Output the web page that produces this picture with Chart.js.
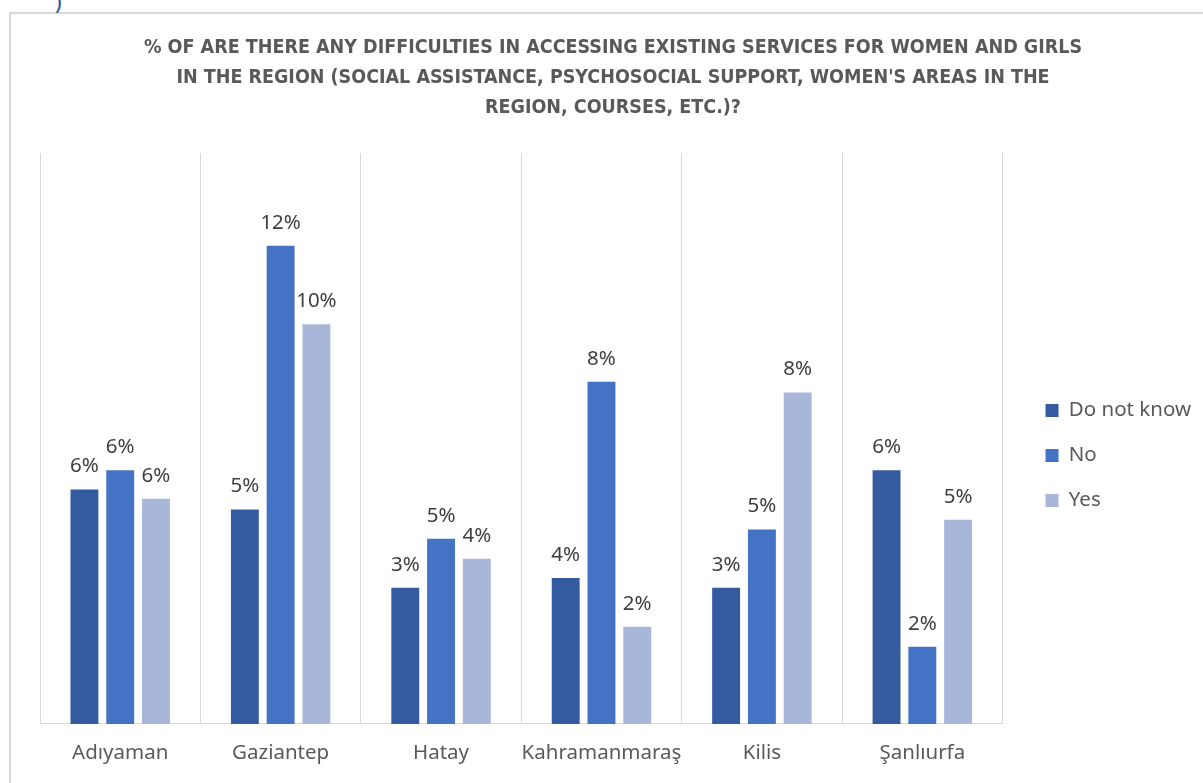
<!DOCTYPE html>
<html>
<head>
<meta charset="utf-8">
<script src="https://cdn.jsdelivr.net/npm/chart.js@4/dist/chart.umd.min.js"></script>
<style>
  html, body { margin: 0; padding: 0; background: #ffffff; }
  #wrap { position: relative; width: 1203px; height: 783px; overflow: hidden; }
  #frame { position: absolute; left: 9px; top: 12px; width: 1300px; height: 900px;
           border-left: 2px solid #d9d9d9; border-top: 2px solid #d9d9d9; box-sizing: border-box; }
  #cut { position: absolute; left: 55px; top: -14px; font: 22px "Noto Sans", sans-serif; color: #2f5496; }
  canvas { position: absolute; left: 0; top: 0; }
</style>
</head>
<body>
<div id="wrap">
  <div id="frame"></div>
  <div id="cut">)</div>
  <canvas id="chart" width="1203" height="783"></canvas>
</div>
<script>
// Provinces and answer shares (percent of respondents)
const provinces = ['Adıyaman', 'Gaziantep', 'Hatay', 'Kahramanmaraş', 'Kilis', 'Şanlıurfa'];
const doNotKnow = [5.75, 5.26, 3.34, 3.58, 3.34, 6.22];
const noAnswer  = [6.22, 11.73, 4.54, 8.39, 4.77, 1.89];
const yesAnswer = [5.52, 9.80, 4.05, 2.38, 8.13, 5.01];
const seriesNames = ['Do not know', 'No', 'Yes'];
const titleLines = [
  '% OF ARE THERE ANY DIFFICULTIES IN ACCESSING EXISTING SERVICES FOR WOMEN AND GIRLS',
  "IN THE REGION (SOCIAL ASSISTANCE, PSYCHOSOCIAL SUPPORT, WOMEN'S AREAS IN THE",
  'REGION, COURSES, ETC.)?'
];

const textFont = '"Noto Sans", "Open Sans", sans-serif';
const textSize = 20.5;

// Percentage label above every bar
const barLabels = {
  id: 'barLabels',
  afterDatasetsDraw(chart) {
    const ctx = chart.ctx;
    ctx.save();
    ctx.font = textSize + 'px ' + textFont;
    ctx.fillStyle = '#404040';
    ctx.textAlign = 'center';
    ctx.textBaseline = 'alphabetic';
    chart.data.datasets.forEach((ds, i) => {
      const meta = chart.getDatasetMeta(i);
      meta.data.forEach((bar, j) => {
        ctx.fillText(Math.round(ds.data[j]) + '%', bar.x, bar.y - 17);
      });
    });
    ctx.restore();
  }
};

// Invisible scale that only reserves a fixed strip of width
const spacer = (w, side) => ({
  position: side,
  display: true,
  grid: { display: false },
  border: { display: false },
  ticks: { display: false },
  afterFit(scale) { scale.width = w; }
});

new Chart(document.getElementById('chart'), {
  type: 'bar',
  data: {
    labels: provinces,
    datasets: [
      { label: seriesNames[0], data: doNotKnow, backgroundColor: '#345aa0' },
      { label: seriesNames[1], data: noAnswer,  backgroundColor: '#4472c4' },
      { label: seriesNames[2], data: yesAnswer, backgroundColor: '#a8b6da' }
    ]
  },
  options: {
    responsive: false,
    animation: false,
    layout: { padding: { left: 25, right: 2, top: 0, bottom: 0.5 } },
    datasets: { bar: { categoryPercentage: 0.669, barPercentage: 0.78 } },
    scales: {
      x: {
        grid: { color: '#d9d9d9', lineWidth: 1, drawTicks: false, offset: true },
        border: { color: '#d9d9d9', width: 1 },
        ticks: { color: '#595959', font: { family: textFont, size: textSize }, padding: 17,
                 maxRotation: 0, minRotation: 0, autoSkip: false }
      },
      y: Object.assign(spacer(15, 'left'), { min: 0, max: 14 }),
      gap: spacer(18.5, 'right')
    },
    plugins: {
      title: {
        display: true,
        text: titleLines,
        color: '#595959',
        font: { family: '"Liberation Sans Narrow", "DejaVu Sans Condensed", sans-serif', size: 19.5, weight: 'bold', lineHeight: 1.54 },
        padding: { top: 33, bottom: 30 }
      },
      legend: {
        position: 'right',
        title: { display: true, text: ' ', font: { size: 10, lineHeight: 1 }, padding: { top: 0, bottom: 118.5 } },
        labels: {
          color: '#595959',
          font: { family: textFont, size: textSize },
          boxWidth: 13, boxHeight: 13,
          padding: 24.5
        }
      },
      tooltip: { enabled: false }
    }
  },
  plugins: [barLabels]
});
</script>
</body>
</html>
